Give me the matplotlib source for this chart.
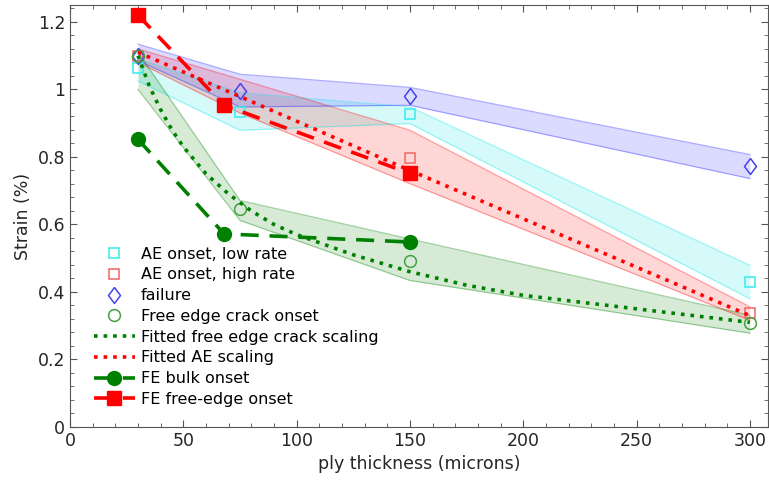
import matplotlib
matplotlib.use("Agg")
import matplotlib.pyplot as plt
import numpy as np


# measured data (ply thickness in microns, strain in %)
AE_LOW_X = [30, 75, 150, 300]
AE_LOW_Y = [1.062, 0.933, 0.926, 0.430]
AE_LOW_HI = [1.090, 0.990, 0.948, 0.479]
AE_LOW_LO = [1.025, 0.879, 0.899, 0.380]

AE_HIGH_X = [30, 150, 300]
AE_HIGH_Y = [1.100, 0.798, 0.337]
AE_HIGH_BAND_X = [30, 75, 150, 300]
AE_HIGH_HI = [1.120, 1.030, 0.879, 0.356]
AE_HIGH_LO = [1.080, 0.930, 0.721, 0.316]

FAIL_X = [30, 75, 150, 300]
FAIL_Y = [1.100, 0.996, 0.980, 0.772]
FAIL_HI = [1.134, 1.045, 1.006, 0.807]
FAIL_LO = [1.085, 0.948, 0.953, 0.736]

EDGE_X = [30, 75, 150, 300]
EDGE_Y = [1.100, 0.645, 0.491, 0.308]
EDGE_HI = [1.110, 0.671, 0.557, 0.331]
EDGE_LO = [1.000, 0.612, 0.434, 0.278]

# fitted curves
FIT_EDGE_X = [30, 35, 40, 45, 50, 60, 70, 80, 90, 100, 125, 150, 175, 200, 250, 300]
FIT_EDGE_Y = [1.10, 1.01, 0.94, 0.88, 0.83, 0.75, 0.69, 0.64, 0.60, 0.57, 0.51, 0.46, 0.42, 0.39, 0.35, 0.31]
FIT_AE_X = [30, 150, 300]
FIT_AE_Y = [1.11, 0.76, 0.33]

# finite element predictions
FE_X = [30, 68, 150]
FE_BULK_Y = [0.852, 0.572, 0.548]
FE_EDGE_Y = [1.220, 0.953, 0.751]

DIAMOND = [(0, 1), (0.75, 0), (0, -1), (-0.75, 0), (0, 1)]


def draw_band(ax, x, lo, hi, color):
    ax.fill_between(x, lo, hi, color=color, alpha=0.16, linewidth=0)
    ax.plot(x, hi, color=color, alpha=0.35, linewidth=0.9)
    ax.plot(x, lo, color=color, alpha=0.35, linewidth=0.9)


def main():
    plt.rcParams["font.family"] = "DejaVu Sans"
    fig = plt.figure(figsize=(7.69, 4.84), dpi=100)
    ax = fig.add_axes([70 / 769, 57 / 484, 698 / 769, 422 / 484])

    draw_band(ax, AE_LOW_X, AE_LOW_LO, AE_LOW_HI, "#00e5e5")
    draw_band(ax, AE_HIGH_BAND_X, AE_HIGH_LO, AE_HIGH_HI, "red")
    draw_band(ax, FAIL_X, FAIL_LO, FAIL_HI, "#2020ff")
    draw_band(ax, EDGE_X, EDGE_LO, EDGE_HI, "green")

    ax.plot(AE_LOW_X, AE_LOW_Y, "s", mfc="none", mec="#33eeee", ms=7.5, mew=1.1, label="AE onset, low rate", zorder=4)
    ax.plot(AE_HIGH_X, AE_HIGH_Y, "s", mfc="none", mec="#ee6666", ms=7.5, mew=1.1, label="AE onset, high rate", zorder=4)
    ax.plot(FAIL_X, FAIL_Y, marker=DIAMOND, ls="none", mfc="none", mec="#4444ee", ms=11.5, mew=1.1, label="failure", zorder=4)
    ax.plot(EDGE_X, EDGE_Y, "o", mfc="none", mec="#44a044", ms=8.5, mew=1.1, label="Free edge crack onset", zorder=4)

    ax.plot(FIT_EDGE_X, FIT_EDGE_Y, ":", color="green", lw=2.6, label="Fitted free edge crack scaling", zorder=5)
    ax.plot(FIT_AE_X, FIT_AE_Y, ":", color="red", lw=2.6, label="Fitted AE scaling", zorder=5)

    ax.plot(FE_X, FE_BULK_Y, "--o", color="green", lw=2.6, ms=10, dashes=(5, 3), label="FE bulk onset", zorder=6)
    ax.plot(FE_X, FE_EDGE_Y, "--s", color="red", lw=2.6, ms=9.5, dashes=(5, 3), label="FE free-edge onset", zorder=6)

    ax.set_xlim(0, 308)
    ax.set_ylim(0, 1.25)
    ax.set_xticks([0, 50, 100, 150, 200, 250, 300])
    ax.set_xticks(np.arange(0, 308, 10), minor=True)
    ax.set_yticks([0, 0.2, 0.4, 0.6, 0.8, 1.0, 1.2])
    ax.set_yticklabels(["0", "0.2", "0.4", "0.6", "0.8", "1", "1.2"])
    ax.set_yticks(np.arange(0, 1.25, 0.04), minor=True)
    ax.tick_params(which="both", direction="in", top=True, right=True, colors="#555555",
                   labelcolor="#262626", labelsize=12.5)
    ax.tick_params(which="major", length=5)
    ax.tick_params(which="minor", length=3)
    for spine in ax.spines.values():
        spine.set_color("#555555")
        spine.set_linewidth(0.8)

    ax.set_xlabel("ply thickness (microns)", fontsize=12.5, color="#262626")
    ax.set_ylabel("Strain (%)", fontsize=12.5, color="#262626")

    ax.legend(loc="upper left", bbox_to_anchor=(0.02, 0.45), frameon=False, fontsize=11.5,
              handlelength=2.6, handletextpad=0.35, labelspacing=0.36, borderaxespad=0.2)

    fig.savefig("out.png", dpi=100)
    plt.close(fig)


if __name__ == "__main__":
    main()
